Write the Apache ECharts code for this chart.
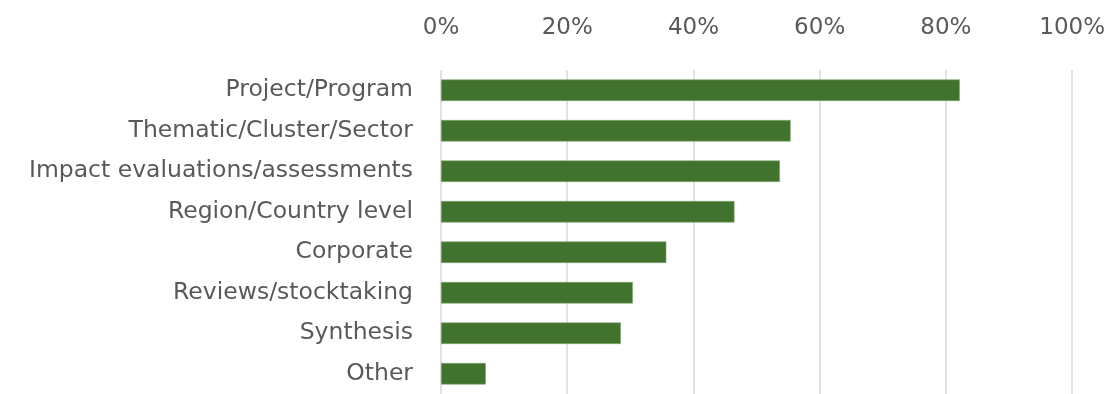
<!DOCTYPE html>
<html>
<head>
<meta charset="utf-8">
<script src="https://cdn.jsdelivr.net/npm/echarts@6/dist/echarts.min.js"></script>
<style>
  html, body { margin: 0; padding: 0; background: #ffffff; }
  #chart { width: 1108px; height: 394px; }
</style>
</head>
<body>
<div id="chart"></div>
<script>
// Evaluation types, listed top to bottom
const categories = [
  'Project/Program',
  'Thematic/Cluster/Sector',
  'Impact evaluations/assessments',
  'Region/Country level',
  'Corporate',
  'Reviews/stocktaking',
  'Synthesis',
  'Other'
];
// Share of respondents (%)
const shares = [82.2, 55.4, 53.7, 46.5, 35.7, 30.4, 28.5, 7.1];
const xTicks = [0, 20, 40, 60, 80, 100];

const FONT = '"DejaVu Sans", sans-serif';
const chart = echarts.init(document.getElementById('chart'), null, { renderer: 'canvas' });
chart.setOption({
  animation: false,
  grid: { left: 441, right: 23, top: 70, height: 332, containLabel: false },
  xAxis: {
    type: 'value',
    position: 'top',
    min: xTicks[0],
    max: xTicks[xTicks.length - 1],
    interval: 20,
    axisLine: { show: false },
    axisTick: { show: false },
    splitLine: { lineStyle: { color: '#d9d9d9', width: 1.5 } },
    axisLabel: {
      formatter: v => v + '%',
      color: '#595959',
      fontFamily: FONT,
      fontSize: 23,
      margin: 30
    }
  },
  yAxis: {
    type: 'category',
    inverse: true,
    data: categories,
    axisLine: { show: false },
    axisTick: { show: false },
    axisLabel: {
      color: '#595959',
      fontFamily: FONT,
      fontSize: 23.5,
      margin: 28,
      padding: [0, 0, 9, 0]
    }
  },
  series: [{
    type: 'bar',
    data: shares,
    barCategoryGap: '47%',
    itemStyle: { color: '#41722e', borderColor: '#7fa56f', borderWidth: 0.6 }
  }]
});
</script>
</body>
</html>
